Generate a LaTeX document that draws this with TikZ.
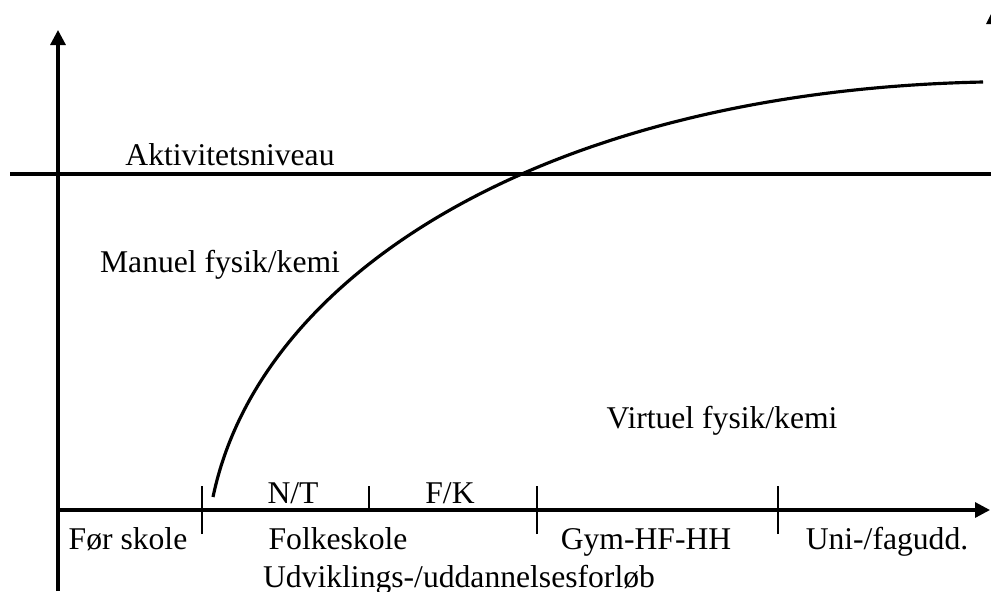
\documentclass[tikz,border=0pt]{standalone}
\usepackage{fontspec}
\setmainfont{Liberation Serif}
\usepackage{tikz}
\usetikzlibrary{arrows.meta}

\tikzset{
  axis/.style={color=black, line width=0.9pt, -{Triangle[length=1.5mm,width=1.5mm]}},
  lbl/.style={anchor=base, inner sep=0pt, font=\fontsize{9}{11}\selectfont}
}

\begin{document}
\begin{tikzpicture}
  \useasboundingbox (0,0) rectangle (9.91,5.91);
  \clip (0,0) rectangle (9.91,5.91);
  \coordinate (o) at (0.58, 0.81);
  \draw[axis] (0.58, 0) -- (0.58, 5.61);
  \draw[axis] (o) -- (9.90, 0.81);
  \fill[black] (9.94, 5.83) -- (9.86, 5.67) -- (10.02, 5.67) -- cycle;
  \draw[color=black, line width=0.9pt] (0.10, 4.17) -- (9.91, 4.17);
  \foreach \x in {2.02,5.37,7.78}
  {
  \draw[color=black, line width=0.8pt] (\x, 0.57) -- (\x, 1.05);
  }
  \draw[color=black, line width=0.8pt] (3.69, 0.81) -- (3.69, 1.05);
  \draw[color=black, line width=0.9pt] (2.13, 0.94) .. controls (2.6, 3.2) and (5.5, 5.0) .. (9.83, 5.09);
  \node[lbl] (niveau) at (2.30, 4.26) {Aktivitetsniveau};
  \node[lbl] (manuel) at (2.20, 3.19) {Manuel fysik/kemi};
  \node[lbl] (virtuel) at (7.22, 1.63) {Virtuel fysik/kemi};
    \node[lbl] (nt) at (2.93, 0.88) {N/T};
     \node[lbl] (fk) at (4.50, 0.88) {F/K};
\node[lbl] (foer) at (1.28, 0.42) {Før skole};
    \node[lbl] (folk) at (3.38, 0.42) {Folkeskole};
     \node[lbl] (gym) at (6.46, 0.42) {Gym-HF-HH};
      \node[lbl] (uni) at (8.87, 0.42) {Uni-/fagudd.};
  \node[lbl] (forloeb) at (4.59, 0.04) {Udviklings-/uddannelsesforløb};

\end{tikzpicture}
\end{document}
